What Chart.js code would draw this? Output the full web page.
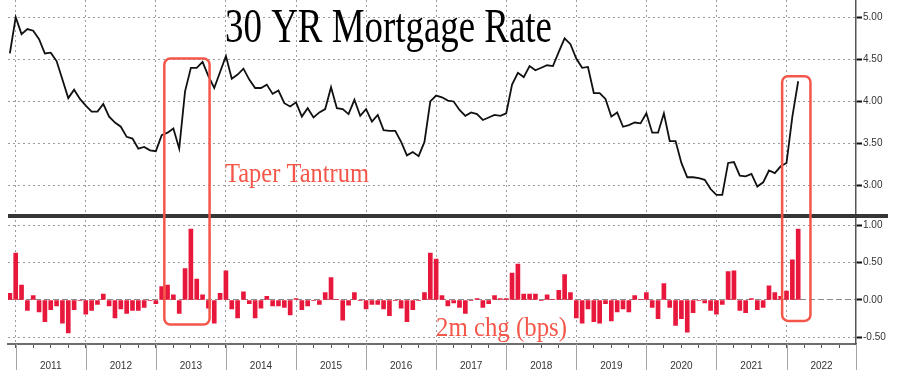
<!DOCTYPE html>
<html>
<head>
<meta charset="utf-8">
<script src="https://cdn.jsdelivr.net/npm/chart.js@4/dist/chart.umd.min.js"></script>
<style>
  html, body { margin: 0; padding: 0; background: #fff; }
  #wrap { width: 901px; height: 370px; }
</style>
</head>
<body>
<div id="wrap"><canvas id="chart" width="901" height="370"></canvas></div>
<script>
// month index on the x axis: 0 = Jan 2011, first reading is Dec 2010
const firstMonth = -1;
const years = ['2011', '2012', '2013', '2014', '2015', '2016', '2017', '2018', '2019', '2020', '2021', '2022'];
const rateTicks = [3.0, 3.5, 4.0, 4.5, 5.0];
const chgTicks = [-0.5, 0, 0.5, 1.0];

// 30Y mortgage rate, monthly, Dec 2010 .. Mar 2022
const rate30y = [
  4.57, 5.00, 4.80, 4.86, 4.84, 4.74, 4.57, 4.58, 4.48, 4.26, 4.04, 4.14, 4.03,
  3.95, 3.88, 3.88, 3.97, 3.82, 3.75, 3.70, 3.58, 3.56, 3.44, 3.46, 3.42,
  3.41, 3.60, 3.63, 3.68, 3.44, 4.12, 4.40, 4.40, 4.47, 4.30, 4.16, 4.35,
  4.54, 4.27, 4.32, 4.39, 4.26, 4.16, 4.16, 4.20, 4.09, 4.13, 3.98, 3.94,
  3.99, 3.82, 3.92, 3.81, 3.87, 3.91, 4.17, 3.92, 3.91, 3.85, 4.02, 3.83,
  3.91, 3.76, 3.84, 3.66, 3.65, 3.65, 3.52, 3.36, 3.40, 3.35, 3.52, 4.00,
  4.07, 4.05, 4.01, 4.00, 3.90, 3.83, 3.87, 3.85, 3.78, 3.81, 3.84, 3.83,
  3.86, 4.20, 4.34, 4.29, 4.42, 4.37, 4.40, 4.43, 4.42, 4.59, 4.75, 4.68,
  4.51, 4.40, 4.41, 4.10, 4.10, 4.03, 3.82, 3.87, 3.70, 3.72, 3.75, 3.74,
  3.86, 3.63, 3.63, 3.86, 3.53, 3.53, 3.27, 3.10, 3.10, 3.09, 3.07, 2.96,
  2.89, 2.89, 3.27, 3.28, 3.12, 3.11, 3.14, 2.99, 3.04, 3.18, 3.15, 3.23,
  3.27, 3.82, 4.24
];

// 2-month change, same months
const chg2m = [
  0.09, 0.63, 0.20, -0.14, 0.06, -0.16, -0.29, -0.13, -0.08, -0.31, -0.44, -0.13, -0.01,
  -0.19, -0.14, -0.06, 0.08, -0.08, -0.24, -0.12, -0.18, -0.14, -0.14, -0.10, -0.01,
  -0.05, 0.18, 0.20, 0.07, -0.18, 0.42, 0.95, 0.28, 0.07, -0.11, -0.31, 0.09,
  0.39, -0.12, -0.24, 0.11, -0.05, -0.24, -0.11, 0.05, -0.08, -0.08, -0.10, -0.20,
  0.02, -0.13, -0.08, -0.01, -0.06, 0.10, 0.30, 0.01, -0.27, -0.07, 0.10, -0.01,
  -0.12, -0.06, -0.06, -0.12, -0.21, -0.01, -0.11, -0.29, -0.13, -0.01, 0.10, 0.63,
  0.55, 0.06, -0.08, -0.04, -0.10, -0.18, -0.01, 0.02, -0.10, -0.05, 0.06, 0.02,
  0.02, 0.36, 0.48, 0.08, 0.08, 0.08, -0.01, 0.07, 0.01, 0.13, 0.34, 0.10,
  -0.24, -0.31, -0.12, -0.29, -0.31, -0.05, -0.28, -0.16, -0.12, -0.16, 0.06, 0.01,
  0.10, -0.10, -0.25, 0.22, -0.10, -0.34, -0.25, -0.43, -0.17, -0.01, -0.04, -0.14,
  -0.19, -0.06, 0.38, 0.39, -0.14, -0.17, 0.02, -0.13, -0.10, 0.19, 0.10, 0.05,
  0.12, 0.54, 0.95
];

// highlight boxes (x in months, top on rate axis, bottom on change axis)
const taperBox = { from: 25.45, to: 33.2, top: 4.51, bottom: -0.33 };
const nowBox = { from: 131.25, to: 136.1, top: 4.30, bottom: -0.28 };

const RED = '#f4564a';
const sans = '"Liberation Sans", Arial, sans-serif';
const serif = '"Liberation Serif", "Times New Roman", serif';

function squeezedText(ctx, txt, left, base, size, width, color) {
  ctx.save();
  ctx.font = size + 'px ' + serif;
  ctx.fillStyle = color;
  ctx.textBaseline = 'alphabetic';
  const w = ctx.measureText(txt).width;
  ctx.translate(left, base);
  ctx.scale(width / w, 1);
  ctx.fillText(txt, 0, 0);
  ctx.restore();
}

function roundBox(ctx, x1, y1, x2, y2, r) {
  ctx.beginPath();
  ctx.moveTo(x1 + r, y1);
  ctx.lineTo(x2 - r, y1);
  ctx.arcTo(x2, y1, x2, y1 + r, r);
  ctx.lineTo(x2, y2 - r);
  ctx.arcTo(x2, y2, x2 - r, y2, r);
  ctx.lineTo(x1 + r, y2);
  ctx.arcTo(x1, y2, x1, y2 - r, r);
  ctx.lineTo(x1, y1 + r);
  ctx.arcTo(x1, y1, x1 + r, y1, r);
  ctx.closePath();
  ctx.stroke();
}

const overlay = {
  id: 'overlay',
  afterDatasetsDraw(chart) {
    const { ctx, chartArea, scales } = chart;
    const x = scales.x, y = scales.y, y2 = scales.y2;

    // thick divider between the two panels
    ctx.save();
    ctx.fillStyle = '#363636';
    ctx.fillRect(chartArea.left, Math.round(y.bottom) - 2, 888 - chartArea.left, 4);

    // year separators under the axis
    ctx.strokeStyle = '#a5a5a5';
    ctx.lineWidth = 1;
    for (let i = 0; i <= years.length; i++) {
      const px = Math.round(Math.min(x.getPixelForValue(i * 12), chartArea.right)) + 0.5;
      ctx.beginPath();
      ctx.moveTo(px, x.top);
      ctx.lineTo(px, x.bottom);
      ctx.stroke();
    }

    // red highlight boxes
    ctx.strokeStyle = RED;
    ctx.lineWidth = 2.5;
    [taperBox, nowBox].forEach(b => {
      roundBox(ctx,
        x.getPixelForValue(b.from), y.getPixelForValue(b.top),
        x.getPixelForValue(b.to), y2.getPixelForValue(b.bottom), 6);
    });
    ctx.restore();

    squeezedText(ctx, '30 YR Mortgage Rate', 225, 41.7, 48, 327, '#000');
    squeezedText(ctx, 'Taper Tantrum', 225, 181.5, 28, 144, RED);
    squeezedText(ctx, '2m chg (bps)', 436, 336, 28, 131, RED);
  }
};

const dotted = [2, 3];
const gridGrey = '#9c9c9c';

function fitRight(s) {
  s.width = 45;
  s.paddingTop = 0;
  s.paddingBottom = 0;
}

new Chart(document.getElementById('chart'), {
  type: 'line',
  data: {
    datasets: [
      {
        type: 'line',
        data: rate30y.map((v, i) => ({ x: firstMonth + i, y: v })),
        yAxisID: 'y',
        borderColor: '#111',
        borderWidth: 1.8,
        pointRadius: 0,
        tension: 0
      },
      {
        type: 'bar',
        data: chg2m.map((v, i) => ({ x: firstMonth + i, y: v })),
        yAxisID: 'y2',
        backgroundColor: '#e8183c',
        barThickness: 4
      }
    ]
  },
  options: {
    responsive: false,
    animation: false,
    devicePixelRatio: 1,
    layout: { padding: { left: 8, top: 0, right: 0, bottom: 0 } },
    plugins: { legend: { display: false }, tooltip: { enabled: false } },
    scales: {
      x: {
        type: 'linear',
        min: -1.32,
        max: 143.9,
        offset: false,
        afterFit(s) {
          s.height = 26;
          s.paddingLeft = 0;
          s.paddingRight = 0;
        },
        afterBuildTicks(s) {
          const t = [];
          for (let m = 0; m < years.length * 12; m += 3) t.push({ value: m });
          s.ticks = t;
        },
        grid: {
          offset: false,
          color: c => (c.tick && c.tick.value % 12 === 0) ? gridGrey : 'transparent',
          tickColor: '#555',
          tickLength: 4,
          lineWidth: 1
        },
        border: { color: '#6e6e6e', width: 2, dash: dotted },
        ticks: {
          autoSkip: false,
          maxRotation: 0,
          padding: 12,
          color: '#333',
          font: { family: sans, size: 10 },
          callback: v => (v % 12 === 6) ? years[(v - 6) / 12] : ''
        }
      },
      y: {
        type: 'linear',
        position: 'right',
        stack: 'panels',
        stackWeight: 215.5,
        min: 2.646,
        max: 5.205,
        afterFit: fitRight,
        afterBuildTicks(s) { s.ticks = rateTicks.map(v => ({ value: v })); },
        grid: { color: gridGrey, tickColor: '#111', tickLength: 6, tickWidth: 2 },
        border: { color: '#555', width: 1.5, dash: dotted },
        ticks: {
          padding: 1,
          color: '#333',
          font: { family: sans, size: 10 },
          callback: v => v.toFixed(2)
        }
      },
      y2: {
        type: 'linear',
        position: 'right',
        stack: 'panels',
        stackWeight: 128.5,
        min: -0.59,
        max: 1.133,
        afterFit: fitRight,
        afterBuildTicks(s) { s.ticks = chgTicks.map(v => ({ value: v })); },
        grid: {
          color: c => (c.tick && c.tick.value === 0) ? '#8a8a8a' : gridGrey,
          tickColor: '#111',
          tickLength: 6,
          tickWidth: 2
        },
        border: {
          color: '#555',
          width: 1.5,
          dash: c => (c.tick && c.tick.value === 0) ? [6, 3] : dotted
        },
        ticks: {
          padding: 1,
          color: '#333',
          font: { family: sans, size: 10 },
          callback: v => v.toFixed(2)
        }
      }
    }
  },
  plugins: [overlay]
});
</script>
</body>
</html>
